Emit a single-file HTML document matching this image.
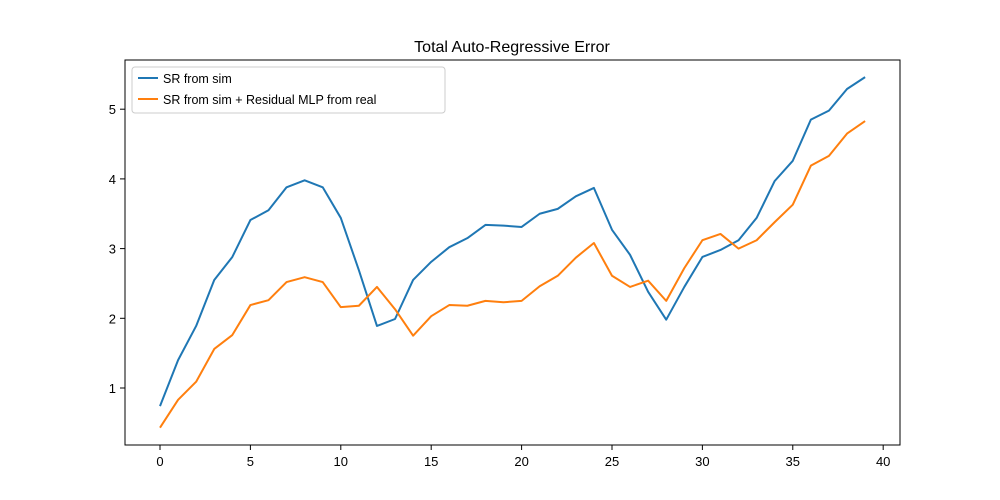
<!DOCTYPE html>
<html><head><meta charset="utf-8"><style>
body{margin:0;background:#fff;}
svg{display:block;font-family:"Liberation Sans","DejaVu Sans",sans-serif;}
</style></head><body>
<svg id="c" width="1000" height="500" xmlns="http://www.w3.org/2000/svg">
<rect x="0" y="0" width="1000" height="500" fill="#fff"/>
<text x="512" y="52" font-size="16" text-anchor="middle">Total Auto-Regressive Error</text>
<g id="ticks"></g>
<g id="lines"></g>
<rect x="125" y="60" width="775" height="385" fill="none" stroke="#000" stroke-width="1"/>
<g>
<rect x="132" y="67" width="313" height="46" fill="#fff" stroke="#ccc" rx="3"/>
<line x1="138" y1="78" x2="158" y2="78" stroke="#1f77b4" stroke-width="2"/>
<text x="163" y="83" font-size="12.5">SR from sim</text>
<line x1="138" y1="99" x2="158" y2="99" stroke="#ff7f0e" stroke-width="2"/>
<text x="163" y="104" font-size="12.5">SR from sim + Residual MLP from real</text>
</g>
</svg>
<script>
const xs = Array.from({length:40},(_,i)=>i);
const simValues = [0.74,1.40,1.89,2.55,2.88,3.41,3.55,3.88,3.98,3.88,3.44,2.69,1.89,1.99,2.55,2.81,3.02,3.15,3.34,3.33,3.31,3.50,3.57,3.75,3.87,3.27,2.91,2.38,1.98,2.45,2.88,2.98,3.12,3.44,3.97,4.26,4.85,4.98,5.29,5.46];
const mlpValues = [0.43,0.83,1.09,1.56,1.76,2.19,2.26,2.52,2.59,2.52,2.16,2.18,2.45,2.13,1.75,2.03,2.19,2.18,2.25,2.23,2.25,2.46,2.61,2.87,3.08,2.61,2.45,2.54,2.25,2.72,3.12,3.21,3.00,3.12,3.38,3.63,4.19,4.33,4.65,4.83];
const xTicks = [0,5,10,15,20,25,30,35,40];
const yTicks = [1,2,3,4,5];
const X = v => 160 + v*(883-160)/39.99;
const Y = v => 388 - (v-1)*69.7;
const NS="http://www.w3.org/2000/svg";
const tg=document.getElementById('ticks'), lg=document.getElementById('lines');
function mk(t,a,p){const e=document.createElementNS(NS,t);for(const k in a)e.setAttribute(k,a[k]);p.appendChild(e);return e;}
xTicks.forEach(t=>{
  const l=mk('line',{x1:X(t),x2:X(t),y1:445,y2:450,stroke:'#000'},tg);
  
  
  const tx=mk('text',{x:X(t),y:466,'font-size':13,'text-anchor':'middle'},tg);tx.textContent=t;
  
  
});
yTicks.forEach(t=>{
  const l=mk('line',{x1:120,x2:125,y1:Y(t),y2:Y(t),stroke:'#000'},tg);
  
  
  const tx=mk('text',{x:116,y:Y(t)+5,'font-size':13,'text-anchor':'end'},tg);tx.textContent=t;
  
  
});
function line(vals,color,name){
  const p=mk('polyline',{points:vals.map((v,i)=>X(xs[i])+','+Y(v)).join(' '),fill:'none',stroke:color,'stroke-width':2,'stroke-linejoin':'round'},lg);
  
  
}
line(simValues,'#1f77b4','series-sr-from-sim');
line(mlpValues,'#ff7f0e','series-sr-residual-mlp');
</script>
</body></html>
